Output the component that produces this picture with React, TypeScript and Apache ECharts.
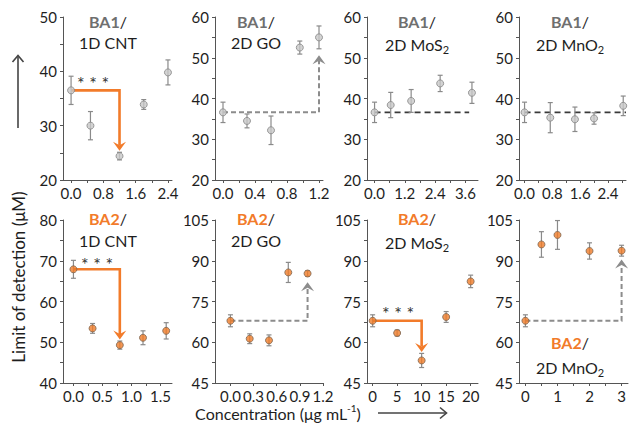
import React, { useEffect, useRef } from "react";
import * as echarts from "echarts";

const FONT = "Lato, 'Open Sans', sans-serif";
const AXIS_COLOR = "#555555";
const TEXT_COLOR = "#1e1e1e";
const BA1_COLOR = "#6f6f6f";
const BA2_COLOR = "#f27b2a";
const ERR_COLOR = "#8a8a8a";

// ---- data (concentration, limit of detection, error) ----
const ba1CntX = [0, 0.48, 1.2, 1.8, 2.4];
const ba1CntY = [36.5, 30.0, 24.4, 33.9, 39.8];
const ba1CntE = [2.6, 2.6, 0.7, 0.9, 2.3];

const ba1GoX = [0, 0.3, 0.6, 0.96, 1.2];
const ba1GoY = [36.6, 34.5, 32.2, 52.5, 55.0];
const ba1GoE = [2.5, 1.7, 3.5, 1.6, 2.8];

const ba1MosX = [0, 0.64, 1.45, 2.6, 3.86];
const ba1MosY = [36.6, 38.4, 39.4, 43.7, 41.4];
const ba1MosE = [2.5, 3.1, 2.8, 2.0, 2.6];

const ba1MnoX = [0, 0.74, 1.45, 2.0, 2.84];
const ba1MnoY = [36.6, 35.3, 34.9, 35.1, 38.2];
const ba1MnoE = [2.5, 3.7, 3.0, 1.4, 2.4];

const ba2CntX = [0, 0.33, 0.8, 1.2, 1.6];
const ba2CntY = [67.9, 53.4, 49.3, 51.1, 52.8];
const ba2CntE = [2.2, 1.2, 1.0, 1.7, 2.0];

const ba2GoX = [0, 0.25, 0.5, 0.75, 1.0];
const ba2GoY = [67.9, 61.3, 60.7, 85.7, 85.3];
const ba2GoE = [2.2, 1.8, 2.0, 3.7, 1.0];

const ba2MosX = [0, 5, 10, 15, 20];
const ba2MosY = [67.9, 63.4, 53.3, 69.3, 82.4];
const ba2MosE = [2.2, 1.1, 2.6, 2.0, 2.3];

const ba2MnoX = [0, 0.5, 1, 2, 3];
const ba2MnoY = [67.9, 96.0, 99.5, 93.6, 93.7];
const ba2MnoE = [2.2, 4.7, 5.3, 3.0, 2.0];

// ---- tick labels ----
const xLabelsCnt1 = [0, 0.8, 1.6, 2.4];
const xTicksCnt1 = [0, 0.4, 0.8, 1.2, 1.6, 2.0, 2.4];
const xLabelsGo1 = [0, 0.4, 0.8, 1.2];
const xTicksGo1 = [0, 0.2, 0.4, 0.6, 0.8, 1.0, 1.2];
const xLabelsMos1 = [0, 1.2, 2.4, 3.6];
const xTicksMos1 = [0, 0.6, 1.2, 1.8, 2.4, 3.0, 3.6];
const xLabelsMno1 = [0, 0.8, 1.6, 2.4];
const xTicksMno1 = [0, 0.4, 0.8, 1.2, 1.6, 2.0, 2.4, 2.8];
const xLabelsCnt2 = [0, 0.5, 1.0, 1.5];
const xTicksCnt2 = [0, 0.25, 0.5, 0.75, 1.0, 1.25, 1.5];
const xLabelsGo2 = [0, 0.3, 0.6, 0.9, 1.2];
const xTicksGo2 = [0, 0.3, 0.6, 0.9, 1.2];
const xLabelsMos2 = [0, 5, 10, 15, 20];
const xTicksMos2 = [0, 5, 10, 15, 20];
const xLabelsMno2 = [0, 1, 2, 3];
const xTicksMno2 = [0, 0.5, 1, 1.5, 2, 2.5, 3];

// ---- annotation arrows in data units: [x0, y0, xCorner, yEnd] ----
const arrowCnt1 = [0, 36.5, 1.2, 25.4];
const arrowGo1 = [0, 36.6, 1.2, 50.6];
const lineMos1 = [0, 36.6, 3.75];
const lineMno1 = [0, 36.6, 2.92];
const arrowCnt2 = [0, 67.9, 0.8, 50.7];
const arrowGo2 = [0, 67.9, 1.0, 82.1];
const arrowMos2 = [0, 67.9, 10, 56.4];
const arrowMno2 = [0, 67.9, 3, 90.5];

type Panel = {
  x: number[]; y: number[]; e: number[];
  xMin: number; xMax: number; xLabels: number[]; xTicks: number[]; digits: number;
  yMin: number; yMax: number; yInt: number;
  kind: 1 | 2;
  left: number; top: number; width: number;
  title1: string; title2: string; sub?: string;
  tx: number; ty1: number; ty2: number;
  arrow?: number[]; arrowKind?: "orange" | "gray"; flat?: number[];
  stars?: [number, number];
};

const H = 163;
const panels: Panel[] = [
  { x: ba1CntX, y: ba1CntY, e: ba1CntE, xMin: -0.2, xMax: 2.5, xLabels: xLabelsCnt1, xTicks: xTicksCnt1, digits: 1,
    yMin: 20, yMax: 50, yInt: 10, kind: 1, left: 63, top: 17, width: 109,
    title1: "BA1", title2: "1D CNT", tx: 108, ty1: 21, ty2: 42, arrow: arrowCnt1, arrowKind: "orange", stars: [93, 83] },
  { x: ba1GoX, y: ba1GoY, e: ba1GoE, xMin: -0.1, xMax: 1.25, xLabels: xLabelsGo1, xTicks: xTicksGo1, digits: 1,
    yMin: 20, yMax: 60, yInt: 10, kind: 1, left: 215, top: 17, width: 108,
    title1: "BA1", title2: "2D GO", tx: 256, ty1: 21, ty2: 42, arrow: arrowGo1, arrowKind: "gray" },
  { x: ba1MosX, y: ba1MosY, e: ba1MosE, xMin: -0.3, xMax: 4.1, xLabels: xLabelsMos1, xTicks: xTicksMos1, digits: 1,
    yMin: 20, yMax: 60, yInt: 10, kind: 1, left: 367, top: 17, width: 111,
    title1: "BA1", title2: "2D MoS", sub: "2", tx: 417, ty1: 21, ty2: 42, flat: lineMos1 },
  { x: ba1MnoX, y: ba1MnoY, e: ba1MnoE, xMin: -0.16, xMax: 2.92, xLabels: xLabelsMno1, xTicks: xTicksMno1, digits: 1,
    yMin: 20, yMax: 60, yInt: 10, kind: 1, left: 519, top: 17, width: 107,
    title1: "BA1", title2: "2D MnO", sub: "2", tx: 570, ty1: 21, ty2: 42, flat: lineMno1 },
  { x: ba2CntX, y: ba2CntY, e: ba2CntE, xMin: -0.18, xMax: 1.7, xLabels: xLabelsCnt2, xTicks: xTicksCnt2, digits: 1,
    yMin: 40, yMax: 80, yInt: 10, kind: 2, left: 63, top: 220, width: 109,
    title1: "BA2", title2: "1D CNT", tx: 108, ty1: 218, ty2: 240, arrow: arrowCnt2, arrowKind: "orange", stars: [97, 264] },
  { x: ba2GoX, y: ba2GoY, e: ba2GoE, xMin: -0.2, xMax: 1.2, xLabels: xLabelsGo2, xTicks: xTicksGo2, digits: 1,
    yMin: 45, yMax: 105, yInt: 15, kind: 2, left: 215, top: 220, width: 108,
    title1: "BA2", title2: "2D GO", tx: 256, ty1: 218, ty2: 240, arrow: arrowGo2, arrowKind: "gray" },
  { x: ba2MosX, y: ba2MosY, e: ba2MosE, xMin: -1.15, xMax: 21.5, xLabels: xLabelsMos2, xTicks: xTicksMos2, digits: 0,
    yMin: 45, yMax: 105, yInt: 15, kind: 2, left: 367, top: 220, width: 111,
    title1: "BA2", title2: "2D MoS", sub: "2", tx: 417, ty1: 218, ty2: 240, arrow: arrowMos2, arrowKind: "orange", stars: [398, 313] },
  { x: ba2MnoX, y: ba2MnoY, e: ba2MnoE, xMin: -0.2, xMax: 3.2, xLabels: xLabelsMno2, xTicks: xTicksMno2, digits: 0,
    yMin: 45, yMax: 105, yInt: 15, kind: 2, left: 519, top: 220, width: 109,
    title1: "BA2", title2: "2D MnO", sub: "2", tx: 570, ty1: 342, ty2: 365, arrow: arrowMno2, arrowKind: "gray" },
];

function buildOption() {
  const grid: any[] = [];
  const xAxis: any[] = [];
  const yAxis: any[] = [];
  const series: any[] = [];
  const graphic: any[] = [];

  panels.forEach((p, i) => {
    grid.push({ left: p.left, top: p.top, width: p.width, height: H, containLabel: false, outerBoundsMode: "none" });
    xAxis.push({
      type: "value", gridIndex: i, min: p.xMin, max: p.xMax,
      axisLine: { show: true, onZero: false, lineStyle: { color: AXIS_COLOR, width: 1 } },
      axisTick: { show: true, customValues: p.xTicks, length: 3, lineStyle: { color: AXIS_COLOR } },
      axisLabel: {
        show: true, customValues: p.xLabels, margin: 5, fontSize: 15, color: TEXT_COLOR, fontFamily: FONT,
        formatter: (v: number) => v.toFixed(p.digits),
      },
      splitLine: { show: false },
    });
    yAxis.push({
      type: "value", gridIndex: i, min: p.yMin, max: p.yMax, interval: p.yInt,
      axisLine: { show: true, onZero: false, lineStyle: { color: AXIS_COLOR, width: 1 } },
      axisTick: { show: true, length: 3, lineStyle: { color: AXIS_COLOR } },
      minorTick: { show: true, splitNumber: 2, length: 3, lineStyle: { color: AXIS_COLOR } },
      axisLabel: { margin: 6, fontSize: 15, color: TEXT_COLOR, fontFamily: FONT },
      splitLine: { show: false },
      minorSplitLine: { show: false },
    });

    // annotation arrow
    if (p.arrow) {
      const color = p.arrowKind === "orange" ? BA2_COLOR : "#8c8c8c";
      const dashed = p.arrowKind === "gray";
      const lw = dashed ? 2 : 2.6;
      series.push({
        type: "custom", xAxisIndex: i, yAxisIndex: i, z: 1, silent: true, clip: false,
        data: [p.arrow],
        renderItem: (_params: any, api: any) => {
          const a = api.coord([api.value(0), api.value(1)]);
          const b = api.coord([api.value(2), api.value(1)]);
          const c = api.coord([api.value(2), api.value(3)]);
          const dir = c[1] > b[1] ? 1 : -1;
          const hl = 9, hw = 6.5, notch = 3.5;
          const end = [c[0], c[1] - dir * (hl - notch)];
          return {
            type: "group",
            children: [
              { type: "polyline", shape: { points: [a, b, end] },
                style: { stroke: color, lineWidth: lw, fill: "none", lineDash: dashed ? [5, 3] : null } },
              { type: "polygon", shape: { points: [
                  [c[0], c[1]], [c[0] - hw, c[1] - dir * hl], [c[0], c[1] - dir * (hl - notch)], [c[0] + hw, c[1] - dir * hl],
                ] }, style: { fill: color, stroke: "none" } },
            ],
          };
        },
      });
    }
    if (p.flat) {
      series.push({
        type: "custom", xAxisIndex: i, yAxisIndex: i, z: 1, silent: true, clip: false,
        data: [p.flat],
        renderItem: (_params: any, api: any) => {
          const a = api.coord([api.value(0), api.value(1)]);
          const b = api.coord([api.value(2), api.value(1)]);
          return { type: "line", shape: { x1: a[0], y1: a[1], x2: b[0], y2: b[1] },
            style: { stroke: "#3a3a3a", lineWidth: 1.6, lineDash: [6, 4] } };
        },
      });
    }

    // error bars
    series.push({
      type: "custom", xAxisIndex: i, yAxisIndex: i, z: 2, silent: true, clip: false,
      data: p.x.map((xv, k) => [xv, p.y[k], p.e[k]]),
      renderItem: (_params: any, api: any) => {
        const xv = api.value(0), yv = api.value(1), ev = api.value(2);
        const t = api.coord([xv, yv + ev]);
        const bt = api.coord([xv, yv - ev]);
        const w = 2.5;
        const st = { stroke: ERR_COLOR, lineWidth: 1.2 };
        return {
          type: "group",
          children: [
            { type: "line", shape: { x1: t[0], y1: t[1], x2: bt[0], y2: bt[1] }, style: st },
            { type: "line", shape: { x1: t[0] - w, y1: t[1], x2: t[0] + w, y2: t[1] }, style: st },
            { type: "line", shape: { x1: bt[0] - w, y1: bt[1], x2: bt[0] + w, y2: bt[1] }, style: st },
          ],
        };
      },
    });

    // points
    series.push({
      type: "scatter", xAxisIndex: i, yAxisIndex: i, z: 3, silent: true,
      symbol: "circle", symbolSize: 7,
      itemStyle: p.kind === 1
        ? { color: "#c8c8c8", borderColor: "#858585", borderWidth: 1 }
        : { color: "#f07c28", borderColor: "#7d6550", borderWidth: 1 },
      data: p.x.map((xv, k) => [xv, p.y[k]]),
    });

    // titles
    graphic.push({
      type: "text", x: p.tx, y: p.ty1, silent: true,
      style: {
        text: `{a|${p.title1}}{b|/}`, align: "center", verticalAlign: "middle",
        rich: {
          a: { fontFamily: FONT, fontSize: 16, fontWeight: "bold", fill: p.kind === 1 ? BA1_COLOR : BA2_COLOR, color: p.kind === 1 ? BA1_COLOR : BA2_COLOR },
          b: { fontFamily: FONT, fontSize: 16, fill: TEXT_COLOR, color: TEXT_COLOR },
        },
      },
    });
    graphic.push({
      type: "text", x: p.tx, y: p.ty2 + (p.sub ? 2 : 0), silent: true,
      style: {
        text: p.sub ? `{m|${p.title2}}{s|${p.sub}}` : `{m|${p.title2}}`, align: "center", verticalAlign: "middle",
        rich: {
          m: { fontFamily: FONT, fontSize: 16, lineHeight: 22, verticalAlign: "middle", fill: TEXT_COLOR, color: TEXT_COLOR },
          s: { fontFamily: FONT, fontSize: 11, lineHeight: 11, verticalAlign: "bottom", fill: TEXT_COLOR, color: TEXT_COLOR },
        },
      },
    });
    if (p.stars) {
      graphic.push({
        type: "text", x: p.stars[0], y: p.stars[1], silent: true,
        style: { text: "* * *", align: "center", verticalAlign: "middle", fontFamily: FONT, fontSize: 18, fill: "#333" },
      });
    }
  });

  // axis titles and direction arrows
  graphic.push({
    type: "text", x: 18, y: 277, rotation: Math.PI / 2, silent: true,
    style: { text: "Limit of detection (μM)", align: "center", verticalAlign: "middle", fontFamily: FONT, fontSize: 17, fill: TEXT_COLOR },
  });
  graphic.push({ type: "line", silent: true, shape: { x1: 18, y1: 128, x2: 18, y2: 57 }, style: { stroke: "#444", lineWidth: 1.6 } });
  graphic.push({ type: "polyline", silent: true, shape: { points: [[12.5, 62], [18, 55.5], [23.5, 62]] }, style: { stroke: "#444", lineWidth: 1.6, fill: "none" } });

  graphic.push({
    type: "text", x: 278, y: 413, silent: true,
    style: {
      text: "{m|Concentration (μg mL}{s|-1}{m|)}", align: "center", verticalAlign: "middle",
      rich: {
        m: { fontFamily: FONT, fontSize: 16, lineHeight: 20, verticalAlign: "middle", fill: TEXT_COLOR, color: TEXT_COLOR },
        s: { fontFamily: FONT, fontSize: 10, lineHeight: 10, verticalAlign: "top", fill: TEXT_COLOR, color: TEXT_COLOR },
      },
    },
  });
  graphic.push({ type: "line", silent: true, shape: { x1: 378, y1: 413, x2: 446, y2: 413 }, style: { stroke: "#444", lineWidth: 1.6 } });
  graphic.push({ type: "polyline", silent: true, shape: { points: [[440, 407.5], [446.5, 413], [440, 418.5]] }, style: { stroke: "#444", lineWidth: 1.6, fill: "none" } });

  return {
    animation: false,
    backgroundColor: "#ffffff",
    textStyle: { fontFamily: FONT },
    grid, xAxis, yAxis, series, graphic,
  };
}

export default function App() {
  const ref = useRef<HTMLDivElement>(null);
  useEffect(() => {
    if (!ref.current) return;
    const chart = echarts.init(ref.current, null, { renderer: "svg" });
    chart.setOption(buildOption() as any);
    return () => chart.dispose();
  }, []);
  return <div ref={ref} style={{ position: "fixed", left: 0, top: 0, width: 632, height: 433 }} />;
}
